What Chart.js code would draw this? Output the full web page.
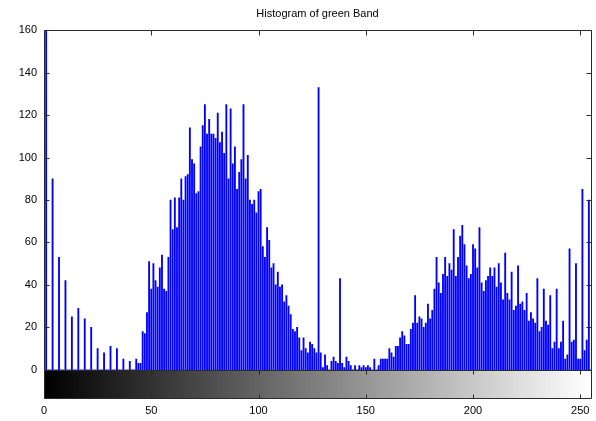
<!DOCTYPE html>
<html>
<head>
<meta charset="utf-8">
<script src="https://cdn.jsdelivr.net/npm/chart.js@4.4.1/dist/chart.umd.min.js"></script>
<style>
  html, body { margin: 0; padding: 0; background: #fff; }
  #wrap { width: 596px; height: 421px; }
</style>
</head>
<body>
<div id="wrap"><canvas id="histChart" width="596" height="421"></canvas></div>
<script>
// pixel counts per grey level 0..255
const counts = [
  0, 160, 0, 0, 90, 0, 0, 53, 0, 0,
  42, 0, 0, 25, 0, 0, 29, 0, 0, 24,
  0, 0, 20, 0, 0, 10, 0, 0, 8, 0,
  0, 11, 0, 0, 10, 0, 0, 5, 0, 0,
  4, 0, 0, 5, 3, 3, 18, 17, 27, 51,
  38, 50, 42, 39, 48, 54, 38, 37, 53, 80,
  66, 81, 67, 81, 90, 80, 91, 92, 114, 99,
  97, 83, 84, 105, 115, 125, 111, 118, 111, 111,
  109, 121, 107, 112, 102, 125, 90, 123, 97, 105,
  85, 93, 99, 125, 90, 101, 80, 78, 80, 74,
  84, 85, 58, 53, 67, 61, 48, 50, 40, 46,
  39, 40, 32, 35, 30, 26, 19, 18, 20, 15,
  9, 15, 10, 8, 13, 12, 10, 8, 133, 8,
  1, 7, 2, 0, 4, 6, 4, 3, 43, 3,
  1, 6, 4, 2, 0, 2, 0, 2, 1, 2,
  1, 2, 1, 0, 5, 0, 2, 5, 5, 5,
  5, 10, 8, 6, 11, 11, 15, 18, 16, 12,
  12, 19, 22, 35, 22, 25, 24, 20, 22, 31,
  24, 28, 38, 53, 41, 36, 45, 53, 44, 50,
  47, 66, 44, 53, 63, 68, 59, 49, 43, 45,
  59, 57, 48, 67, 41, 37, 42, 44, 48, 44,
  48, 39, 50, 41, 33, 55, 36, 33, 46, 28,
  30, 49, 31, 32, 28, 36, 23, 27, 24, 22,
  43, 18, 20, 38, 23, 21, 35, 10, 13, 38,
  10, 13, 23, 5, 7, 57, 13, 14, 50, 5,
  5, 85, 9, 14, 80, 0
];
const xTicks = [0, 50, 100, 150, 200, 250];
const yTicks = [0, 20, 40, 60, 80, 100, 120, 140, 160];
const titleText = "Histogram of green Band";

const font = "'Liberation Sans', Arial, Helvetica, sans-serif";

// axes box, tick marks and the grey colorbar under the histogram
const framePlugin = {
  id: 'frame',
  beforeDatasetsDraw(chart) {
    const { ctx, chartArea: a, scales: { x, y } } = chart;
    const y0 = Math.round(y.getPixelForValue(0));
    const g = ctx.createLinearGradient(x.getPixelForValue(0), 0, x.getPixelForValue(255), 0);
    g.addColorStop(0, '#000000');
    g.addColorStop(1, '#ffffff');
    ctx.save();
    ctx.fillStyle = g;
    ctx.fillRect(a.left, y0, a.right - a.left, a.bottom - y0);
    ctx.restore();
  },
  afterDatasetsDraw(chart) {
    const { ctx, chartArea: a, scales: { x, y } } = chart;
    const px = v => Math.round(v) + 0.5;
    const y0 = px(y.getPixelForValue(0));
    const L = px(a.left), R = px(a.right), T = px(a.top), B = px(a.bottom);
    ctx.save();
    ctx.strokeStyle = '#2a2a2a';
    ctx.lineWidth = 1;
    ctx.beginPath();
    ctx.rect(L, T, R - L, B - T);
    ctx.moveTo(L, y0); ctx.lineTo(R, y0);
    xTicks.forEach(v => {
      const xp = px(x.getPixelForValue(v));
      ctx.moveTo(xp, T); ctx.lineTo(xp, T + 5);
      ctx.moveTo(xp, y0); ctx.lineTo(xp, y0 + 4);
      ctx.moveTo(xp, B); ctx.lineTo(xp, B - 4);
    });
    yTicks.forEach(v => {
      const yp = px(y.getPixelForValue(v));
      ctx.moveTo(L, yp); ctx.lineTo(L + 5, yp);
      ctx.moveTo(R, yp); ctx.lineTo(R - 5, yp);
    });
    ctx.stroke();
    ctx.restore();
  }
};

const ctx = document.getElementById('histChart').getContext('2d');
const histChart = new Chart(ctx, {
  type: 'bar',
  data: {
    datasets: [{
      data: counts.map((c, i) => ({ x: i, y: c })),
      backgroundColor: '#0000ff',
      borderWidth: 0,
      barThickness: 1.2,
      grouped: false
    }]
  },
  options: {
    responsive: false,
    animation: false,
    layout: { padding: { left: 0, right: 5, top: 0, bottom: 0 } },
    scales: {
      x: {
        type: 'linear',
        min: 0,
        max: 255,
        offset: false,
        grid: { display: false, drawTicks: false },
        border: { display: false },
        afterBuildTicks: s => { s.ticks = xTicks.map(v => ({ value: v })); },
        afterFit: s => { s.height = 23; },
        ticks: {
          padding: 6,
          color: '#000',
          font: { family: font, size: 11 },
          maxRotation: 0
        }
      },
      y: {
        min: -13.3,
        max: 160,
        grid: { display: false, drawTicks: false },
        border: { display: false },
        afterBuildTicks: s => { s.ticks = yTicks.map(v => ({ value: v })); },
        afterFit: s => { s.width = 44; },
        ticks: {
          padding: 7,
          color: '#000',
          font: { family: font, size: 11 }
        }
      }
    },
    plugins: {
      legend: { display: false },
      tooltip: { enabled: false },
      title: {
        display: true,
        text: titleText,
        fullSize: false,
        color: '#000',
        font: { family: font, size: 11, weight: 'normal' },
        padding: { top: 7, bottom: 10 }
      }
    }
  },
  plugins: [framePlugin]
});
</script>
</body>
</html>
